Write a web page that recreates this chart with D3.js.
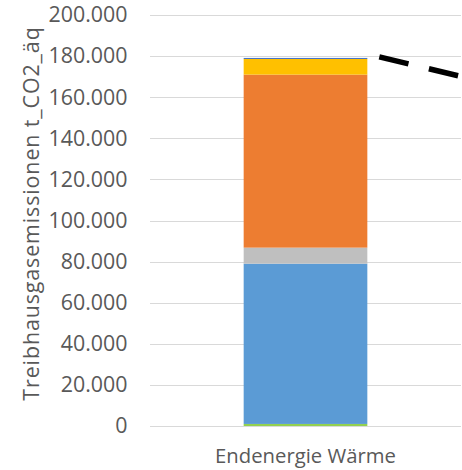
<!DOCTYPE html>
<html><head><meta charset="utf-8">
<script src="https://cdn.jsdelivr.net/npm/d3@7"></script>
<style>body{margin:0;background:#fff;} svg{display:block;}</style>
</head><body>
<script>
const categories = ["Endenergie Wärme"];
const seriesNames = ["Grün", "Blau", "Grau", "Orange", "Gelb", "Dunkelblau"];
const seriesValues = [1000, 78000, 7800, 84200, 7600, 500];
const seriesColors = ["#92D050", "#5B9BD5", "#BFBFBF", "#ED7D31", "#FFC000", "#4472C4"];
const yTicks = [0, 20000, 40000, 60000, 80000, 100000, 120000, 140000, 160000, 180000, 200000];
const connectorValues = [181000, 170000];
const yTitle = "Treibhausgasemissionen t_CO2_äq";

const W = 462, H = 470;
const svg = d3.select("body").append("svg").attr("width", W).attr("height", H);
const font = "'Open Sans', sans-serif";
const loc = d3.formatLocale({decimal: ",", thousands: ".", grouping: [3], currency: ["", "€"]});
const fmt = loc.format(",d");

const y = d3.scaleLinear().domain([0, 200000]).range([426, 15]);
const x = d3.scaleBand().domain(categories).range([150, 461]).padding(0.431);

// gridlines
svg.append("g").selectAll("line").data(yTicks).join("line")
  .attr("x1", 150).attr("x2", 461)
  .attr("y1", d => Math.round(y(d)) + 0.5).attr("y2", d => Math.round(y(d)) + 0.5)
  .attr("stroke", "#D9D9D9").attr("stroke-width", 1);

// y axis labels
const yAxis = d3.axisLeft(y).tickValues(yTicks).tickFormat(fmt).tickSize(0).tickPadding(0);
const ga = svg.append("g").attr("transform", "translate(127.5,0)").call(yAxis);
ga.select(".domain").remove();
ga.selectAll("text").attr("font-family", font).attr("font-size", 21.4).attr("fill", "#595959");

// stacked bar
let cum = 0;
const stackData = seriesValues.map((v, i) => { const d = {y0: cum, y1: cum + v, c: seriesColors[i]}; cum += v; return d; });
svg.append("g").selectAll("rect").data(stackData).join("rect")
  .attr("x", x(categories[0])).attr("width", x.bandwidth())
  .attr("y", d => y(d.y1)).attr("height", d => y(d.y0) - y(d.y1))
  .attr("fill", d => d.c);

// dashed connector
const xs = [x(categories[0]) + x.bandwidth(), x.range()[1] + 1];
svg.append("line")
  .attr("x1", xs[0]).attr("y1", y(connectorValues[0]))
  .attr("x2", xs[1]).attr("y2", y(connectorValues[1]))
  .attr("stroke", "#000").attr("stroke-width", 5.5)
  .attr("stroke-dasharray", "30,21").attr("stroke-dashoffset", 38.7);

// x label
svg.append("text").attr("x", x(categories[0]) + x.bandwidth() / 2).attr("y", 463)
  .attr("text-anchor", "middle").attr("font-family", font).attr("font-size", 20.3)
  .attr("fill", "#595959").text(categories[0]);

// y title
svg.append("text").attr("transform", "translate(38.5,213.5) rotate(-90)")
  .attr("text-anchor", "middle").attr("font-family", font).attr("font-size", 21.4)
  .attr("letter-spacing", 0.9)
  .attr("fill", "#595959").text(yTitle);
</script>
</body></html>
